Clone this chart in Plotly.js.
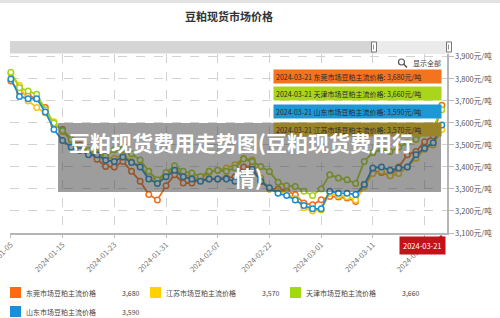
<!DOCTYPE html>
<html>
<head>
<meta charset="utf-8">
<script src="https://cdn.plot.ly/plotly-3.0.1.min.js"></script>
<style>
html,body{margin:0;padding:0;background:#fff;}
#chart{width:500px;height:318px;}
</style>
</head>
<body>
<div id="chart"></div>
<script>
// ---- data ----
const dates = ['2024-01-05','2024-01-08','2024-01-09','2024-01-10','2024-01-11','2024-01-12','2024-01-15','2024-01-16','2024-01-17','2024-01-18','2024-01-19','2024-01-22','2024-01-23','2024-01-24','2024-01-25','2024-01-26','2024-01-29','2024-01-30','2024-01-31','2024-02-01','2024-02-02','2024-02-04','2024-02-05','2024-02-06','2024-02-07','2024-02-08','2024-02-18','2024-02-19','2024-02-20','2024-02-21','2024-02-22','2024-02-23','2024-02-26','2024-02-27','2024-02-28','2024-02-29','2024-03-01','2024-03-04','2024-03-05','2024-03-06','2024-03-07','2024-03-08','2024-03-11','2024-03-12','2024-03-13','2024-03-14','2024-03-15','2024-03-18','2024-03-19','2024-03-20','2024-03-21'];
const dongguan = [3790,3740,3725,3710,3670,3590,3570,3525,3500,3470,3435,3402,3400,3425,3380,3335,3275,3250,3315,3365,3327,3327,3342,3345,3345,3350,3355,3400,3402,3334,3300,3300,3290,3274,3236,3228,3251,3266,3263,3259,3243,3320,3380,3375,3360,3400,3455,3470,3515,3540,3680];
const jiangsu = [3825,3770,3700,3670,3645,3605,3560,3520,3490,3470,3460,3440,3440,3455,3425,3405,3360,3335,3365,3395,3365,3355,3345,3375,3385,3395,3410,3440,3432,3350,3300,3290,3280,3255,3215,3200,3205,3280,3270,3265,3250,3310,3370,3380,3360,3370,3400,3440,3480,3500,3570];
const tianjin = [3830,3760,3745,3730,3660,3600,3565,3525,3490,3475,3465,3450,3478,3480,3460,3432,3380,3342,3375,3405,3380,3372,3357,3380,3385,3380,3395,3436,3425,3402,3379,3330,3315,3311,3290,3270,3300,3365,3350,3342,3325,3425,3465,3480,3470,3490,3510,3525,3555,3580,3660];
const shandong = [3800,3720,3710,3710,3650,3570,3520,3490,3475,3455,3455,3430,3425,3445,3420,3400,3345,3325,3355,3385,3355,3345,3335,3345,3345,3345,3335,3370,3390,3335,3305,3280,3270,3250,3225,3210,3210,3290,3280,3280,3275,3320,3395,3400,3385,3395,3400,3455,3485,3510,3590];
const seriesNames = ['东莞市场豆粕主流价格','江苏市场豆粕主流价格','天津市场豆粕主流价格','山东市场豆粕主流价格'];
const tickDates = ['2024-01-05','2024-01-15','2024-01-23','2024-01-31','2024-02-07','2024-02-22','2024-03-01','2024-03-11','2024-03-19'];
const yTicks = [3100,3200,3300,3400,3500,3600,3700,3800,3900];
const chartTitle = '豆粕现货市场价格';
const watermark1 = '豆粕现货费用走势图(豆粕现货费用行';
const watermark2 = '情)';

// ---- styling ----
const FONT = '"Noto Sans CJK SC", "Noto Sans", sans-serif';
const series = [dongguan, jiangsu, tianjin, shandong];
const lineColors = ['#f2701c','#f5c814','#a6d21a','#1f8dcc'];
const legendColors = ['#ff6a10','#ffd200','#a3d90f','#1b90d8'];
const tipColors = ['#f4731f','#a9d51b','#1d98d6','#9a842a'];
const tipOrder = [0,2,3,1];

// pixel -> paper helpers (plot area: x 10..447, y 54..233)
const L=10, R=447, T=54, B=233;
const X = px => (px-L)/(R-L);
const Y = py => (B-py)/(B-T);
const fmt = v => v.toLocaleString('en-US');

const traces = series.map((s,i)=>({
  type:'scatter', mode:'lines+markers', x:dates, y:s, name:seriesNames[i],
  line:{color:lineColors[i], width:1.8},
  marker:{symbol:'circle', size:5.5, color:'#ffffff', line:{color:lineColors[i], width:1.5}},
  hoverinfo:'skip', cliponaxis:false
}));

const shapes = [
  {type:'rect', xref:'paper', yref:'paper', x0:X(0), x1:X(500), y0:Y(0), y1:Y(3), fillcolor:'#e2e2e2', line:{width:0}},
  {type:'rect', xref:'paper', yref:'paper', x0:X(10), x1:X(449), y0:Y(53.5), y1:Y(41), fillcolor:'#d5d5d5', line:{width:0}},
  {type:'rect', xref:'paper', yref:'paper', x0:X(374), x1:X(449), y0:Y(53.5), y1:Y(41), fillcolor:'#ebebeb', line:{width:0}},
  {type:'rect', xref:'paper', yref:'paper', x0:X(371.5), x1:X(376.5), y0:Y(52), y1:Y(42), fillcolor:'#ffffff', line:{color:'#777', width:1}},
  {type:'rect', xref:'paper', yref:'paper', x0:X(446.5), x1:X(451.5), y0:Y(52), y1:Y(42), fillcolor:'#ffffff', line:{color:'#777', width:1}},
  {type:'line', xref:'paper', yref:'paper', x0:X(373.5), x1:X(373.5), y0:Y(49.5), y1:Y(44.5), line:{color:'#777', width:0.8}},
  {type:'line', xref:'paper', yref:'paper', x0:X(448.5), x1:X(448.5), y0:Y(49.5), y1:Y(44.5), line:{color:'#777', width:0.8}},
  {type:'circle', xref:'paper', yref:'paper', x0:X(398.5), x1:X(404.5), y0:Y(65), y1:Y(59), line:{color:'#555', width:1.2}, fillcolor:'rgba(0,0,0,0)'},
  {type:'line', xref:'paper', yref:'paper', x0:X(403.5), x1:X(407), y0:Y(64), y1:Y(67.5), line:{color:'#555', width:1.6}},
  {type:'path', xref:'paper', yref:'paper', path:`M ${X(437)} ${Y(239)} L ${X(441)} ${Y(235)} L ${X(445)} ${Y(239)} Z`, fillcolor:'#c4121a', line:{width:0}},
  {type:'rect', xref:'paper', yref:'paper', layer:'above', x0:X(58), x1:X(441), y0:Y(192), y1:Y(123), fillcolor:'rgba(60,60,60,0.5)', line:{width:0}}
];

const annotations = [];
const tipY = [76.3, 93.3, 111.2, 129];
tipOrder.forEach((si,k)=>{
  const s = series[si];
  annotations.push({
    xref:'paper', yref:'paper', x:X(357), y:Y(tipY[k]), xanchor:'center', yanchor:'middle',
    text: `${dates[dates.length-1]} ${seriesNames[si]}: ${fmt(s[s.length-1])}元/吨`,
    showarrow:false, align:'left', width:163, height:9, borderpad:2,
    bgcolor:tipColors[k], font:{family:FONT, size:7, color:'#2a2a2a'}
  });
});
annotations.push({xref:'paper', yref:'paper', x:X(411), y:Y(62.5), xanchor:'left', yanchor:'middle', text:'显示全部', showarrow:false, font:{family:FONT, size:7, color:'#444'}});
annotations.push({xref:'paper', yref:'paper', x:X(422), y:Y(245.5), xanchor:'center', yanchor:'middle', text:dates[dates.length-1], showarrow:false, bgcolor:'#c4121a', borderpad:3, font:{family:FONT, size:7.5, color:'#ffffff'}});
const legPos = [[10,292.5,120],[150,292.5,260],[290,292.5,400],[10,311.5,120]];
series.forEach((s,i)=>{
  const [lx,ly,vx] = legPos[i];
  shapes.push({type:'rect', xref:'paper', yref:'paper', x0:X(lx), x1:X(lx+11), y0:Y(ly+5.5), y1:Y(ly-5.5), fillcolor:legendColors[i], line:{width:0}});
  annotations.push({xref:'paper', yref:'paper', x:X(lx+14), y:Y(ly), xanchor:'left', yanchor:'middle', text:seriesNames[i], showarrow:false, font:{family:FONT, size:7, color:'#444'}});
  annotations.push({xref:'paper', yref:'paper', x:X(vx), y:Y(ly), xanchor:'left', yanchor:'middle', text:fmt(s[s.length-1]), showarrow:false, font:{family:FONT, size:7, color:'#444'}});
});
annotations.push({xref:'paper', yref:'paper', x:X(241), y:Y(142), xanchor:'center', yanchor:'middle', text:'<b>'+watermark1+'</b>', showarrow:false, font:{family:FONT, size:21, color:'#ffffff'}});
annotations.push({xref:'paper', yref:'paper', x:X(248), y:Y(177), xanchor:'center', yanchor:'middle', text:'<b>'+watermark2+'</b>', showarrow:false, font:{family:FONT, size:21, color:'#ffffff'}});

const layout = {
  width:500, height:318,
  margin:{l:L, r:500-R, t:T, b:318-B, pad:0},
  paper_bgcolor:'#ffffff', plot_bgcolor:'#ffffff',
  showlegend:false,
  title:{text:'<b>'+chartTitle+'</b>', x:229/500, y:1-17/318, xanchor:'center', yanchor:'middle', font:{family:FONT, size:11, color:'#333'}},
  xaxis:{type:'category', categoryorder:'array', categoryarray:dates, range:[-0.1,50.6],
    tickmode:'array', tickvals:tickDates, ticktext:tickDates, tickangle:-45,
    tickfont:{family:FONT, size:7.5, color:'#777'}, ticks:'outside', ticklen:3, tickcolor:'#bbb',
    showgrid:true, gridcolor:'#d2d2d2', griddash:'dash', gridwidth:1,
    showline:true, linecolor:'#b5b5b5', linewidth:1.5, zeroline:false, fixedrange:true},
  yaxis:{side:'right', range:[3100,3913], tickmode:'array', tickvals:yTicks,
    ticktext:yTicks.map(v=>fmt(v)+'元/吨'),
    tickfont:{family:FONT, size:7.5, color:'#555'}, ticks:'outside', ticklen:5, tickcolor:'#bbb',
    showgrid:true, gridcolor:'#d2d2d2', griddash:'dash', gridwidth:1,
    showline:true, linecolor:'#b5b5b5', linewidth:1.5, zeroline:false, fixedrange:true},
  shapes:shapes, annotations:annotations
};

Plotly.newPlot('chart', traces, layout, {staticPlot:true, displayModeBar:false});
</script>
</body>
</html>
